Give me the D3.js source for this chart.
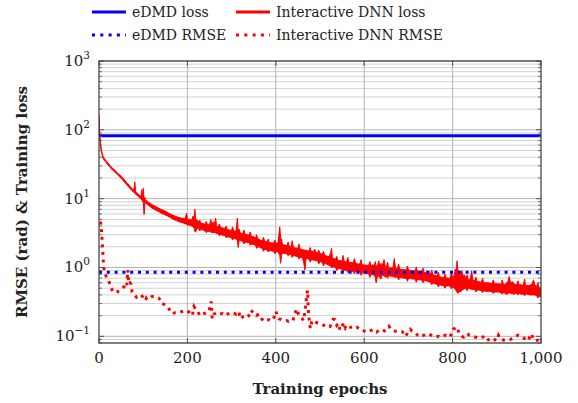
<!DOCTYPE html>
<html>
<head>
<meta charset="utf-8">
<script src="https://cdn.jsdelivr.net/npm/d3@7"></script>
<style>
  body { margin: 0; background: #fff; }
  text { font-family: "DejaVu Serif", serif; fill: #222; }
</style>
</head>
<body>
<div id="chart-area"></div>
<script>
// data
const epochTicks = [0, 200, 400, 600, 800, 1000]
const decadeTicks = [0.1, 1, 10, 100, 1000]
const seriesNames = ["eDMD loss", "Interactive DNN loss", "eDMD RMSE", "Interactive DNN RMSE"]

const edmdLoss = [[0, 82], [1000, 82]]
const edmdRmse = [[0, 0.85], [1000, 0.85]]

// DNN training loss is noisy: kept as [epoch, low edge, high edge] of the red band
const dnnLoss = [
  [0,150,165],[1,96,104],[2,77,83],[3,62,66],[4,55,59],[6,46.5,49.5],[8,40.5,43.5],[10,37.8,40],[14,35,37],
  [20,31,33],[25,28.6,30.4],[30,26.2,27.8],[35,24.6,26.4],[40,22.8,24.2],[45,21.3,22.7],[50,19.8,21.2],
  [55,18.2,19.6],[60,16.7,18],[65,15.3,16.5],[70,14.1,15.2],[75,13,14],[78,12.4,13.3],[80,12.1,14.8],
  [81,12,17.6],[83,11.7,12.6],[85,11.3,12.3],[88,10.8,11.8],[90,10.6,11.5],[93,10.1,11],[95,9.9,10.8],
  [97,9.6,13.5],[99,9.0,10.2],[100,9.2,14.2],[102,5.9,10],[104,8.6,10.5],[105,8.7,9.6],[110,8.2,9.1],
  [115,7.7,8.6],[120,7.3,8.2],[125,7.0,7.9],[130,6.7,7.6],[135,6.5,7.3],[140,6.2,7.0],[145,6.0,6.8],
  [150,5.8,6.6],[155,5.6,6.3],[160,5.35,6.05],[165,5.15,5.85],[170,4.95,5.65],[175,4.8,5.5],[180,4.65,5.35],
  [185,4.55,5.25],[190,4.45,5.15],[195,4.3,5.1],[198,4.3,6.1],[200,4.15,5.0],[205,4.1,5.0],[210,4.0,4.9],
  [213,3.9,5.6],[215,3.75,4.8],[217,3.3,7.0],[219,3.3,4.7],[221,3.7,5.0],[225,3.7,4.6],[230,3.55,4.4],
  [235,3.5,4.35],[240,3.4,4.25],[245,3.35,4.2],[250,3.3,4.15],[253,3.3,5.0],[255,3.2,4.1],[258,3.25,4.6],
  [260,3.2,4.0],[264,3.2,5.2],[266,3.1,3.95],[270,3.1,3.9],[275,3.0,3.85],[280,2.95,3.75],[285,2.9,3.7],
  [290,2.8,3.6],[295,2.75,3.5],[300,2.7,3.45],[305,2.65,3.4],[310,2.6,3.35],[313,2.5,5.2],[315,1.95,3.3],
  [317,2.5,3.6],[320,2.45,3.15],[325,2.4,3.1],[330,2.35,3.05],[335,2.3,3.0],[340,2.3,2.95],[345,2.2,2.85],
  [350,2.15,2.8],[355,2.08,2.7],[360,2.0,2.6],[365,1.95,2.5],[370,1.88,2.45],[375,1.83,2.4],[380,1.8,2.35],
  [385,1.76,2.3],[390,1.74,2.28],[395,1.72,2.25],[400,1.7,2.22],[405,1.68,2.3],[407,1.6,3.0],[409,1.5,3.9],
  [411,1.15,2.6],[413,1.5,2.6],[415,1.62,2.15],[420,1.6,2.12],[425,1.58,2.08],[430,1.56,2.05],[435,1.53,2.0],
  [440,1.5,1.96],[445,1.46,1.92],[450,1.44,1.9],[455,1.41,1.85],[460,1.4,1.82],[463,1.2,1.8],[466,0.92,1.78],
  [468,1.3,1.78],[470,1.35,1.76],[475,1.32,1.74],[480,1.3,1.72],[485,1.28,1.7],[488,1.27,1.85],[490,1.26,1.66],
  [495,1.24,1.62],[500,1.22,1.6],[505,1.18,1.56],[510,1.15,1.52],[515,1.12,1.47],[520,1.08,1.44],[524,1.05,1.6],
  [526,1.0,1.9],[528,1.02,1.4],[530,1.02,1.36],[535,1.0,1.32],[540,0.97,1.28],[545,0.96,1.26],[550,0.94,1.24],
  [555,0.92,1.22],[560,0.91,1.2],[565,0.9,1.19],[570,0.89,1.18],[575,0.88,1.17],[580,0.88,1.16],[585,0.86,1.13],
  [590,0.85,1.12],[595,0.84,1.1],[600,0.83,1.09],[605,0.82,1.08],[610,0.81,1.07],[615,0.8,1.06],[620,0.78,1.1],
  [623,0.78,1.05],[625,0.72,1.22],[627,0.6,1.05],[630,0.76,1.04],[633,0.74,1.25],[635,0.72,1.03],[640,0.77,1.02],
  [645,0.76,1.3],[648,0.72,1.0],[650,0.76,1.0],[655,0.75,0.99],[660,0.75,0.99],[665,0.74,0.98],[668,0.73,1.35],
  [671,0.72,0.97],[675,0.73,0.96],[680,0.72,0.95],[685,0.71,0.94],[690,0.7,0.93],[695,0.7,0.92],[700,0.69,0.92],
  [705,0.69,0.91],[710,0.68,0.9],[715,0.68,0.89],[720,0.67,0.89],[725,0.66,0.88],[730,0.66,0.87],[735,0.65,0.85],
  [740,0.64,0.84],[743,0.63,0.9],[745,0.62,0.82],[750,0.61,0.8],[755,0.6,0.79],[760,0.58,0.77],[765,0.57,0.75],
  [770,0.56,0.74],[775,0.55,0.72],[780,0.54,0.71],[785,0.54,0.71],[790,0.54,0.7],[795,0.535,0.7],[800,0.53,0.72],
  [803,0.5,0.75],[806,0.48,0.95],[808,0.46,0.8],[810,0.44,1.25],[812,0.42,0.9],[815,0.45,0.88],[818,0.44,0.8],
  [821,0.47,0.9],[824,0.48,0.75],[827,0.49,0.78],[830,0.5,0.68],[835,0.5,0.67],[840,0.49,0.66],[843,0.48,0.9],
  [846,0.48,0.65],[850,0.48,0.64],[855,0.47,0.63],[860,0.47,0.62],[865,0.46,0.61],[870,0.46,0.6],[875,0.45,0.6],
  [880,0.45,0.6],[885,0.45,0.59],[890,0.44,0.59],[895,0.44,0.58],[900,0.44,0.58],[905,0.44,0.58],[910,0.43,0.57],
  [915,0.43,0.57],[920,0.42,0.57],[922,0.4,0.6],[925,0.42,0.62],[928,0.43,0.74],[931,0.42,0.6],[935,0.42,0.62],
  [938,0.4,0.6],[940,0.42,0.57],[945,0.42,0.56],[950,0.42,0.56],[955,0.41,0.56],[960,0.41,0.55],[965,0.41,0.55],
  [970,0.41,0.55],[975,0.4,0.55],[980,0.4,0.58],[983,0.4,0.66],[986,0.4,0.56],[990,0.39,0.53],[995,0.38,0.52],
  [1000,0.38,0.5]
]

// smaller flickers of the loss band between the samples above
const dnnLossFlicker = [
  [228,3.4,4.9],[243,3.2,4.7],[272,2.9,4.3],[288,2.7,4.0],[302,2.5,3.9],[328,2.2,3.5],[342,2.1,3.3],
  [356,1.9,3.0],[372,1.72,2.75],[383,1.68,2.6],[398,1.58,2.5],[428,1.48,2.35],[437,1.4,2.45],[452,1.33,2.2],
  [478,1.2,1.95],[497,1.12,1.8],[508,1.05,1.72],[538,0.9,1.45],[552,0.86,1.5],[563,0.84,1.4],[578,0.81,1.35],
  [593,0.77,1.3],[613,0.72,1.22],[638,0.68,1.15],[653,0.7,1.2],[678,0.66,1.12],[698,0.63,1.05],[718,0.61,1.02],
  [733,0.6,0.98],[753,0.56,0.92],[768,0.52,0.86],[783,0.5,0.8],[797,0.49,0.85],[833,0.46,0.78],[853,0.44,0.72],
  [868,0.43,0.7],[892,0.42,0.66],[912,0.41,0.66],[948,0.4,0.64],[963,0.39,0.68],[993,0.36,0.6]
]

const dnnRmse = [
  [2,4.6],[4,4.4],[6,3.1],[8,2.0],[9,1.5],[10,1.15],[12,0.86],[16,0.75],[21,0.68],[26,0.53],[30,0.47],
  [35,0.43],[40,0.44],[46,0.46],[52,0.5],[57,0.53],[61,0.6],[63,0.56],[65,0.92],[67,0.58],[70,0.6],
  [72,0.58],[75,0.44],[80,0.4],[85,0.37],[90,0.38],[96,0.4],[100,0.36],[105,0.33],[108,0.37],[115,0.36],
  [120,0.38],[125,0.38],[130,0.37],[135,0.36],[140,0.33],[142,0.3],[148,0.29],[155,0.27],[160,0.24],
  [165,0.214],[172,0.22],[180,0.22],[188,0.23],[195,0.235],[200,0.235],[205,0.22],[211,0.2],[215,0.27],
  [218,0.25],[222,0.24],[228,0.2],[235,0.21],[242,0.22],[249,0.23],[252,0.3],[254,0.32],[256,0.18],
  [260,0.21],[265,0.22],[272,0.21],[279,0.214],[285,0.2],[290,0.21],[298,0.22],[305,0.22],[310,0.21],
  [316,0.23],[320,0.18],[324,0.19],[330,0.2],[335,0.19],[339,0.2],[343,0.24],[350,0.22],[356,0.2],
  [362,0.21],[368,0.18],[373,0.165],[380,0.17],[385,0.175],[392,0.17],[396,0.19],[400,0.23],[404,0.2],
  [407,0.18],[413,0.175],[418,0.17],[424,0.17],[429,0.165],[434,0.17],[439,0.17],[442,0.21],[448,0.25],
  [452,0.2],[455,0.19],[460,0.18],[463,0.17],[466,0.23],[468,0.3],[470,0.4],[472,0.465],[474,0.21],
  [478,0.13],[482,0.17],[490,0.16],[497,0.155],[505,0.15],[512,0.14],[518,0.145],[523,0.14],[530,0.177],
  [534,0.175],[538,0.145],[542,0.155],[545,0.124],[550,0.14],[554,0.16],[558,0.13],[564,0.14],[569,0.135],
  [575,0.135],[579,0.13],[584,0.135],[590,0.125],[594,0.124],[599,0.12],[606,0.115],[612,0.12],[621,0.125],
  [628,0.115],[635,0.125],[641,0.125],[646,0.12],[652,0.13],[656,0.14],[661,0.125],[667,0.12],[675,0.117],
  [686,0.117],[690,0.11],[694,0.1],[699,0.115],[704,0.127],[708,0.12],[713,0.117],[720,0.105],[728,0.098],
  [735,0.104],[743,0.109],[751,0.104],[756,0.1],[762,0.098],[768,0.1],[773,0.097],[779,0.1],[784,0.104],
  [789,0.1],[794,0.098],[798,0.11],[801,0.127],[805,0.13],[810,0.137],[813,0.12],[816,0.106],[821,0.1],
  [825,0.097],[829,0.104],[833,0.109],[838,0.104],[844,0.1],[850,0.098],[855,0.096],[859,0.094],[864,0.096],
  [869,0.098],[873,0.092],[876,0.086],[882,0.09],[889,0.095],[895,0.09],[900,0.086],[904,0.104],[908,0.095],
  [915,0.088],[922,0.09],[930,0.09],[937,0.094],[942,0.098],[948,0.104],[954,0.1],[960,0.095],[966,0.09],
  [971,0.086],[975,0.1],[978,0.109],[982,0.095],[986,0.086],[992,0.088],[997,0.09],[1000,0.088]
]

const MARGIN = { LEFT: 99, RIGHT: 37, TOP: 61, BOTTOM: 60 }
const WIDTH = 578 - MARGIN.LEFT - MARGIN.RIGHT
const HEIGHT = 403 - MARGIN.TOP - MARGIN.BOTTOM

const svg = d3.select("#chart-area").append("svg")
  .attr("width", 578)
  .attr("height", 403)

const g = svg.append("g")
  .attr("transform", `translate(${MARGIN.LEFT}, ${MARGIN.TOP})`)

// Scales
const x = d3.scaleLinear().domain([0, 1000]).range([0, WIDTH])
const y = d3.scaleLog().domain([0.08, 1000]).range([HEIGHT, 0])

// minor tick values between the decades
const minorTicks = []
for (let k = -2; k <= 2; k++) {
  for (let m = 2; m <= 9; m++) {
    const v = m * Math.pow(10, k)
    if (v >= 0.08 && v < 1000) minorTicks.push(v)
  }
}

// Grid
g.selectAll(".minor-grid").data(minorTicks).enter().append("line")
  .attr("x1", 0).attr("x2", WIDTH)
  .attr("y1", d => y(d)).attr("y2", d => y(d))
  .attr("stroke", "#d2d2d2").attr("stroke-width", 1)
g.selectAll(".major-grid").data(decadeTicks).enter().append("line")
  .attr("x1", 0).attr("x2", WIDTH)
  .attr("y1", d => y(d)).attr("y2", d => y(d))
  .attr("stroke", "#b4b4b4").attr("stroke-width", 1)
g.selectAll(".x-grid").data(epochTicks.slice(1, -1)).enter().append("line")
  .attr("x1", d => x(d)).attr("x2", d => x(d))
  .attr("y1", 0).attr("y2", HEIGHT)
  .attr("stroke", "#b4b4b4").attr("stroke-width", 1)

// Lines
svg.append("clipPath").attr("id", "clip")
  .append("rect").attr("width", WIDTH).attr("height", HEIGHT)

const line = d3.line().x(d => x(d[0])).y(d => y(d[1]))
const band = d3.area().x(d => x(d[0])).y0(d => y(d[1])).y1(d => y(d[2]))
const plot = g.append("g").attr("clip-path", "url(#clip)")

const lossBand = dnnLoss.concat(dnnLossFlicker).sort((a, b) => a[0] - b[0])

plot.append("path").datum(lossBand)
  .attr("d", band)
  .attr("fill", "#ff0000")
  .attr("stroke", "#ff0000").attr("stroke-width", 1)
  .attr("stroke-linejoin", "miter")
plot.append("path").datum(dnnRmse)
  .attr("d", line).attr("fill", "none")
  .attr("stroke", "#ff0000").attr("stroke-width", 3)
  .attr("stroke-dasharray", "3,4.6")
plot.append("path").datum(edmdLoss)
  .attr("d", line).attr("fill", "none")
  .attr("stroke", "#0000ff").attr("stroke-width", 3)
plot.append("path").datum(edmdRmse)
  .attr("d", line).attr("fill", "none")
  .attr("stroke", "#0000ff").attr("stroke-width", 3)
  .attr("stroke-dasharray", "3,4.8")

// tick marks inside the frame
const tickCol = "#555"
;[0, WIDTH].forEach((xx, i) => {
  const dir = i === 0 ? 1 : -1
  g.selectAll(null).data(decadeTicks).enter().append("line")
    .attr("x1", xx).attr("x2", xx + dir * 5)
    .attr("y1", d => y(d)).attr("y2", d => y(d))
    .attr("stroke", tickCol).attr("stroke-width", 1)
  g.selectAll(null).data(minorTicks).enter().append("line")
    .attr("x1", xx).attr("x2", xx + dir * 3)
    .attr("y1", d => y(d)).attr("y2", d => y(d))
    .attr("stroke", tickCol).attr("stroke-width", 0.8)
})
;[0, HEIGHT].forEach((yy, i) => {
  const dir = i === 0 ? 1 : -1
  g.selectAll(null).data(epochTicks).enter().append("line")
    .attr("x1", d => x(d)).attr("x2", d => x(d))
    .attr("y1", yy).attr("y2", yy + dir * 5)
    .attr("stroke", tickCol).attr("stroke-width", 1)
})

// frame
g.append("rect")
  .attr("width", WIDTH).attr("height", HEIGHT)
  .attr("fill", "none").attr("stroke", "#3a3a3a").attr("stroke-width", 1.2)

// Tick labels
g.selectAll(".xlab").data(epochTicks).enter().append("text")
  .attr("x", d => x(d)).attr("y", HEIGHT + 20)
  .attr("text-anchor", "middle").attr("font-size", "15px")
  .text(d3.format(","))

const expo = d => Math.round(Math.log10(d))
const ylab = g.selectAll(".ylab").data(decadeTicks).enter().append("text")
  .attr("x", -9).attr("y", d => y(d) + 5)
  .attr("text-anchor", "end").attr("font-size", "15px")
ylab.append("tspan").text("10")
ylab.append("tspan").attr("dy", -7).attr("font-size", "10.5px")
  .text(d => expo(d) < 0 ? "\u2212" + Math.abs(expo(d)) : expo(d))

// Axis titles
g.append("text")
  .attr("x", WIDTH / 2).attr("y", HEIGHT + 51)
  .attr("text-anchor", "middle").attr("font-size", "15px").attr("font-weight", "bold")
  .text("Training epochs")
g.append("text")
  .attr("transform", "rotate(-90)")
  .attr("x", -HEIGHT / 2).attr("y", -72)
  .attr("text-anchor", "middle").attr("font-size", "15px").attr("font-weight", "bold")
  .text("RMSE (rad) & Training loss")

// Legend
const legendStyles = [
  { col: "#0000ff", dash: null },
  { col: "#ff0000", dash: null },
  { col: "#0000ff", dash: "3,5.3" },
  { col: "#ff0000", dash: "3,5.3" }
]
seriesNames.forEach((name, i) => {
  const lx = i % 2 === 0 ? 92 : 236
  const ly = i < 2 ? 12 : 35
  const st = legendStyles[i]
  svg.append("line")
    .attr("x1", lx).attr("x2", lx + 34).attr("y1", ly).attr("y2", ly)
    .attr("stroke", st.col).attr("stroke-width", 3)
    .attr("stroke-dasharray", st.dash)
  svg.append("text")
    .attr("x", lx + 40).attr("y", ly + 5)
    .attr("font-size", "14px")
    .text(name)
})
</script>
</body>
</html>
